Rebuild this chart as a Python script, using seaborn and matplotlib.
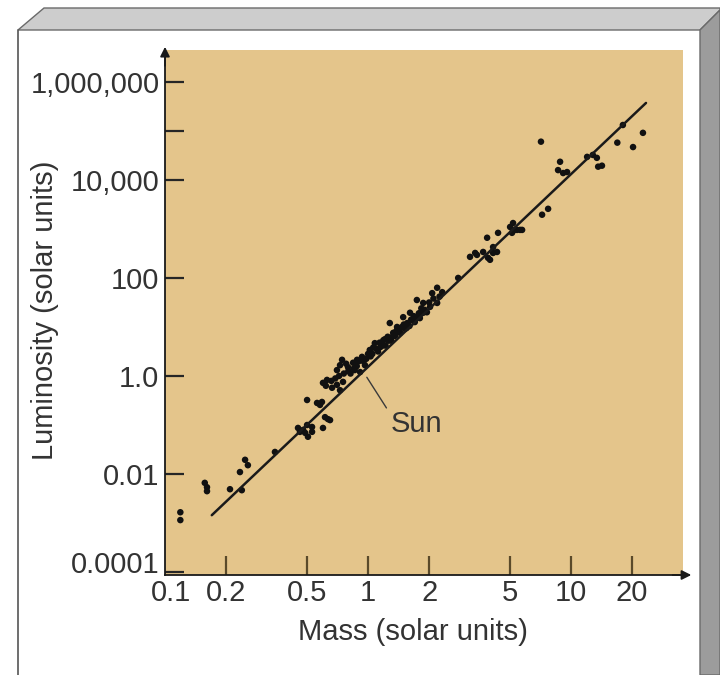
import numpy as np
import pandas as pd
import matplotlib
matplotlib.use("Agg")
import matplotlib.pyplot as plt
import matplotlib.transforms as mtransforms
from matplotlib.patches import Polygon
from matplotlib.ticker import FixedLocator, FixedFormatter, NullLocator, NullFormatter
import seaborn as sns

# ---- data (mass, luminosity in solar units) ----
star_mass = [
    0.119, 0.119,
    0.157, 0.161, 0.161,
    0.209, 0.234, 0.239, 0.248, 0.256,
    0.348,
    0.452, 0.462, 0.490, 0.506, 0.530, 0.501, 0.530, 0.479,
    0.600, 0.635, 0.650, 0.614,
    0.501, 0.561, 0.593, 0.580,
    0.600, 0.628, 0.665, 0.703, 0.728, 0.753, 0.703, 0.728,
    0.745, 0.797, 0.844, 0.883, 0.934, 0.966, 0.914, 0.82, 0.86,
    1.02, 1.08, 1.15, 1.19, 1.25, 1.33, 1.39, 1.47, 1.56, 1.65, 1.74, 1.87, 2.02, 2.19,
    1.05, 1.12, 1.22, 1.30, 1.36, 1.44, 1.52, 1.60, 1.70, 1.80, 1.95,
    1.28, 1.39, 1.49, 1.61, 1.74, 1.87, 2.07, 2.19, 2.32, 2.78,
    0.62, 0.66, 0.69, 0.72, 0.76, 0.78, 0.80, 0.85, 0.88, 0.90, 0.95, 0.98, 1.00,
    1.03, 1.06, 1.10, 1.14, 1.18, 1.21, 1.26, 1.32, 1.37, 1.42, 1.50, 1.55, 1.63,
    1.68, 1.78, 1.83, 1.90, 2.00, 2.10, 2.25,
    3.18, 3.37, 3.44, 3.69, 3.90, 4.13, 4.32, 3.99, 3.86, 4.37, 4.13,
    5.01, 5.18, 5.30, 5.61, 5.74, 5.12, 5.42,
    7.20, 7.71,
    7.11,
    8.83, 8.63, 9.14, 9.56,
    12.0, 12.8, 13.4, 13.6, 14.2,
    16.9, 18.0, 20.2, 22.6,
]
star_luminosity = [10 ** v for v in [
    -2.78, -2.94,
    -2.18, -2.27, -2.35,
    -2.31, -1.96, -2.33, -1.71, -1.82,
    -1.55,
    -1.06, -1.14, -1.16, -1.24, -1.14, -1.00, -1.04, -1.10,
    -1.06, -0.88, -0.90, -0.84,
    -0.49, -0.55, -0.53, -0.59,
    -0.14, -0.08, -0.24, -0.18, -0.29, -0.12, 0.12, 0.22,
    0.33, 0.18, 0.27, 0.33, 0.39, 0.22, 0.08, 0.05, 0.12,
    0.53, 0.67, 0.59, 0.73, 0.80, 0.88, 0.94, 1.00, 1.08, 1.14, 1.20, 1.29, 1.41, 1.49,
    0.45, 0.50, 0.62, 0.72, 0.82, 0.88, 0.96, 1.02, 1.10, 1.18, 1.30,
    1.08, 1.00, 1.20, 1.29, 1.55, 1.49, 1.69, 1.80, 1.71, 2.00,
    -0.20, -0.10, -0.05, 0.00, 0.05, 0.25, 0.10, 0.15, 0.20, 0.30, 0.30, 0.35, 0.45,
    0.40, 0.58, 0.55, 0.68, 0.62, 0.75, 0.72, 0.80, 0.90, 0.95, 1.05, 0.98, 1.15,
    1.22, 1.28, 1.38, 1.35, 1.50, 1.58, 1.62,
    2.43, 2.51, 2.47, 2.53, 2.41, 2.51, 2.53, 2.37, 2.82, 2.92, 2.63,
    3.04, 3.12, 2.98, 2.98, 2.98, 2.92, 2.98,
    3.29, 3.41,
    4.78,
    4.37, 4.20, 4.14, 4.16,
    4.47, 4.51, 4.45, 4.27, 4.29,
    4.76, 5.12, 4.67, 4.96,
]]

fit_mass = [0.17, 23.4]
fit_luminosity = [10 ** -2.84, 10 ** 5.57]

sun_mass = 0.97
sun_luminosity = 1.05

y_ticks = [1e-4, 1e-2, 1.0, 1e2, 1e4, 1e6]
y_tick_labels = ["0.0001", "0.01", "1.0", "100", "10,000", "1,000,000"]
x_ticks = [0.1, 0.2, 0.5, 1, 2, 5, 10, 20]
x_tick_labels = ["0.1", "0.2", "0.5", "1", "2", "5", "10", "20"]

# ---- style ----
sns.set_style("white")
plt.rcParams["font.family"] = ["Liberation Sans", "DejaVu Sans"]
TEXT = "#333333"
TAN = "#e4c58b"
FS = 21

fig = plt.figure(figsize=(7.2, 6.75), dpi=100)
W, H = 720, 675

# decorative box frame
top_bar = Polygon([(18 / W, 1 - 30 / H), (44 / W, 1 - 8 / H), (720 / W, 1 - 8 / H),
                   (720 / W, 1 - 10 / H), (700 / W, 1 - 30 / H)],
                  closed=True, transform=fig.transFigure, facecolor="#cdcdcd",
                  edgecolor="#6a6a6a", lw=1.0)
right_bar = Polygon([(700 / W, 1 - 30 / H), (720 / W, 1 - 10 / H), (720 / W, 0),
                     (700 / W, 0)],
                    closed=True, transform=fig.transFigure, facecolor="#9c9c9c",
                    edgecolor="#6a6a6a", lw=1.0)
fig.patches.extend([top_bar, right_bar])
fig.add_artist(plt.Line2D([18 / W, 18 / W], [0, 1 - 30 / H], transform=fig.transFigure,
                          color="#555555", lw=1.2))

ax = fig.add_axes([165 / W, 1 - 575 / H, (683 - 165) / W, (575 - 50) / H])
ax.set_facecolor(TAN)

df = pd.DataFrame({"mass": star_mass, "luminosity": star_luminosity})
fit = pd.DataFrame({"mass": fit_mass, "luminosity": fit_luminosity})

sns.lineplot(data=fit, x="mass", y="luminosity", ax=ax, color="#1a1a1a", lw=1.8)
sns.scatterplot(data=df, x="mass", y="luminosity", ax=ax, color="#111111",
                s=22, marker="o", edgecolor="none")

ax.set_xscale("log")
ax.set_yscale("log")
ax.set_xlim(0.1, 35.6)
ax.set_ylim(10 ** -4.06, 10 ** 6.65)

ax.xaxis.set_major_locator(FixedLocator(x_ticks))
ax.xaxis.set_major_formatter(FixedFormatter(x_tick_labels))
ax.xaxis.set_minor_locator(NullLocator())
ax.yaxis.set_major_locator(FixedLocator(y_ticks))
ax.yaxis.set_major_formatter(FixedFormatter(y_tick_labels))
ax.yaxis.set_minor_locator(FixedLocator([1e5]))
ax.yaxis.set_minor_formatter(NullFormatter())

ax.tick_params(axis="both", which="both", direction="in", length=14, width=1.6,
               labelsize=FS, labelcolor=TEXT, bottom=True, left=True)
ax.tick_params(axis="x", which="both", colors="#5a4a2a", labelcolor=TEXT, pad=3)
ax.tick_params(axis="y", which="both", pad=4)
ytick_colors = ["#e4c58b", "#a88e5c", "#a88e5c", "#a88e5c", "#4a4a4a", "#4a4a4a"]
for t, c in zip(ax.yaxis.get_major_ticks(), ytick_colors):
    t.tick1line.set_color(c)
for t in ax.yaxis.get_minor_ticks():
    t.tick1line.set_color("#4a4a4a")
ax.xaxis.get_major_ticks()[0].tick1line.set_visible(False)

# small nudges of crowded labels
fig.canvas.draw()
ylabs = ax.get_yticklabels()
ylabs[0].set_transform(ylabs[0].get_transform() +
                       mtransforms.ScaledTranslation(0, 10 / 100, fig.dpi_scale_trans))
xlabs = ax.get_xticklabels()
xlabs[0].set_transform(xlabs[0].get_transform() +
                       mtransforms.ScaledTranslation(6 / 100, 0, fig.dpi_scale_trans))

for side in ["top", "right"]:
    ax.spines[side].set_visible(False)
for side in ["left", "bottom"]:
    ax.spines[side].set_color("#1a1a1a")
    ax.spines[side].set_linewidth(1.3)

# axis arrows
ax.annotate("", xy=(1.016, 0), xytext=(0.98, 0), xycoords="axes fraction",
            arrowprops=dict(arrowstyle="-|>", color="#1a1a1a", lw=1.3, mutation_scale=14,
                            shrinkA=0, shrinkB=0))
ax.annotate("", xy=(0, 1.006), xytext=(0, 0.97), xycoords="axes fraction",
            arrowprops=dict(arrowstyle="-|>", color="#1a1a1a", lw=1.3, mutation_scale=14,
                            shrinkA=0, shrinkB=0))

ax.set_xlabel("Mass (solar units)", fontsize=FS, color=TEXT)
ax.xaxis.set_label_coords(0.479, -0.082)
ax.set_ylabel("Luminosity (solar units)", fontsize=FS, color=TEXT)
ax.yaxis.set_label_coords(-0.205, 0.505)

ax.annotate("Sun", xy=(sun_mass, sun_luminosity), xytext=(1.29, 10 ** -0.98),
            textcoords="data", fontsize=FS, color=TEXT, ha="left", va="center",
            arrowprops=dict(arrowstyle="-", color="#3a3a3a", lw=1.0, relpos=(0.0, 0.85),
                            shrinkA=1, shrinkB=2))

fig.savefig("out.png", dpi=100, facecolor="white")
